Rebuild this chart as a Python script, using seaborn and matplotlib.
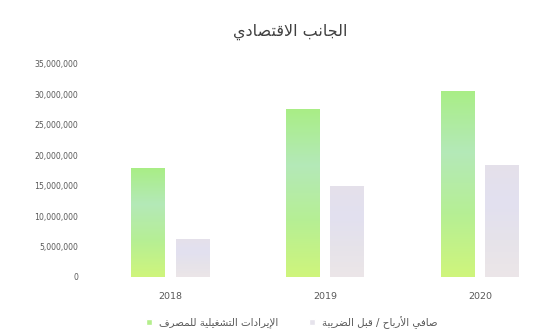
import numpy as np
import pandas as pd
import matplotlib
matplotlib.use("Agg")
import matplotlib.pyplot as plt
import seaborn as sns
from matplotlib.colors import LinearSegmentedColormap
from matplotlib.ticker import FuncFormatter

# ---- data ----
years = ["2018", "2019", "2020"]
revenue = [17900000, 27600000, 30600000]      # الإيرادات التشغيلية للمصرف
net_profit = [6200000, 15000000, 18400000]    # صافي الأرباح / قبل الضريبة
yticks = [0, 5000000, 10000000, 15000000, 20000000, 25000000, 30000000, 35000000]

title_text = "الجانب الاقتصادي"
series_names = ["الإيرادات التشغيلية للمصرف", "صافي الأرباح / قبل الضريبة"]

# ---- minimal Arabic shaping (presentation forms + visual order) ----
FORMS = {
    'ا': (0xFE8D, 0xFE8E, None, None),
    'أ': (0xFE83, 0xFE84, None, None),
    'إ': (0xFE87, 0xFE88, None, None),
    'ب': (0xFE8F, 0xFE90, 0xFE91, 0xFE92),
    'ة': (0xFE93, 0xFE94, None, None),
    'ت': (0xFE95, 0xFE96, 0xFE97, 0xFE98),
    'ج': (0xFE9D, 0xFE9E, 0xFE9F, 0xFEA0),
    'ح': (0xFEA1, 0xFEA2, 0xFEA3, 0xFEA4),
    'د': (0xFEA9, 0xFEAA, None, None),
    'ر': (0xFEAD, 0xFEAE, None, None),
    'ش': (0xFEB5, 0xFEB6, 0xFEB7, 0xFEB8),
    'ص': (0xFEB9, 0xFEBA, 0xFEBB, 0xFEBC),
    'ض': (0xFEBD, 0xFEBE, 0xFEBF, 0xFEC0),
    'غ': (0xFECD, 0xFECE, 0xFECF, 0xFED0),
    'ف': (0xFED1, 0xFED2, 0xFED3, 0xFED4),
    'ق': (0xFED5, 0xFED6, 0xFED7, 0xFED8),
    'ل': (0xFEDD, 0xFEDE, 0xFEDF, 0xFEE0),
    'م': (0xFEE1, 0xFEE2, 0xFEE3, 0xFEE4),
    'ن': (0xFEE5, 0xFEE6, 0xFEE7, 0xFEE8),
    'ي': (0xFEF1, 0xFEF2, 0xFEF3, 0xFEF4),
}
LAM_ALEF = {'ا': (0xFEFB, 0xFEFC), 'أ': (0xFEF7, 0xFEF8), 'إ': (0xFEF9, 0xFEFA)}


def shape(text):
    units = []
    i = 0
    while i < len(text):
        c = text[i]
        if c == 'ل' and i + 1 < len(text) and text[i + 1] in LAM_ALEF:
            units.append(('LA', text[i + 1]))
            i += 2
        else:
            units.append((c, None))
            i += 1

    def is_arabic(u):
        return u[0] == 'LA' or u[0] in FORMS

    def joins_next(u):
        if u[0] == 'LA':
            return False
        f = FORMS.get(u[0])
        return f is not None and f[2] is not None

    out = []
    for j, u in enumerate(units):
        if not is_arabic(u):
            out.append(u[0])
            continue
        prev = units[j - 1] if j > 0 else None
        nxt = units[j + 1] if j + 1 < len(units) else None
        jp = prev is not None and joins_next(prev)
        jn = nxt is not None and is_arabic(nxt) and joins_next(u)
        if u[0] == 'LA':
            iso, fin = LAM_ALEF[u[1]]
            out.append(chr(fin if jp else iso))
        else:
            iso, fin, ini, med = FORMS[u[0]]
            if jp and jn:
                cp = med
            elif jp:
                cp = fin
            elif jn:
                cp = ini
            else:
                cp = iso
            out.append(chr(cp))
    return ''.join(reversed(out))


df = pd.DataFrame({
    "year": years * 2,
    "value": revenue + net_profit,
    "series": [shape(series_names[0])] * 3 + [shape(series_names[1])] * 3,
})

sns.set_theme(style="white")
plt.rcParams["font.family"] = ["DejaVu Sans"]

green = "#b4ee8c"
gray = "#e6e3ec"

fig = plt.figure(figsize=(5.33, 3.34), dpi=100)
ax = fig.add_axes([95 / 533, (334 - 277) / 334, 435 / 533, (277 - 64) / 334])

sns.barplot(data=df, x="year", y="value", hue="series", palette=[green, gray],
            width=0.57, gap=0.25, saturation=1, ax=ax, legend=True)

# soft vertical gradient inside each bar
green_cmap = LinearSegmentedColormap.from_list(
    "g", ["#a9ee86", "#b4e9b8", "#b6ef94", "#cff57c"])
gray_cmap = LinearSegmentedColormap.from_list(
    "s", ["#e5e1ea", "#e2e0f0", "#e6e3ea", "#ece6e8"])
grad = np.linspace(0, 1, 256).reshape(-1, 1)
for k, patch in enumerate(ax.patches[:6]):
    x0, y0 = patch.get_x(), patch.get_y()
    w, h = patch.get_width(), patch.get_height()
    cmap = green_cmap if k < 3 else gray_cmap
    im = ax.imshow(grad, cmap=cmap, aspect="auto",
                   extent=(x0, x0 + w, y0, y0 + h), origin="upper",
                   zorder=patch.get_zorder() + 0.1)
    im.set_clip_path(patch)

ax.set_xlim(-0.484, 2.323)
ax.set_ylim(0, 35000000)
ax.set_yticks(yticks)
ax.yaxis.set_major_formatter(FuncFormatter(lambda v, p: f"{int(v):,}"))
ax.set_xlabel("")
ax.set_ylabel("")
for s in ax.spines.values():
    s.set_visible(False)
ax.tick_params(axis="both", length=0, colors="#595959")
ax.tick_params(axis="y", labelsize=5.6, pad=12)
ax.tick_params(axis="x", labelsize=6.8, pad=11)

fig.text(0.545, 0.905, shape(title_text), ha="center", va="center",
         fontsize=11.5, color="#404040")

handles, labels = ax.get_legend_handles_labels()
ax.legend(handles, labels, loc="center", bbox_to_anchor=(0.548, 0.035),
          bbox_transform=fig.transFigure, ncol=2, frameon=False, fontsize=7.4,
          handlelength=0.55, handleheight=0.55, columnspacing=3.0, handletextpad=0.7,
          labelcolor="#595959")

fig.savefig("out.png", dpi=100)
